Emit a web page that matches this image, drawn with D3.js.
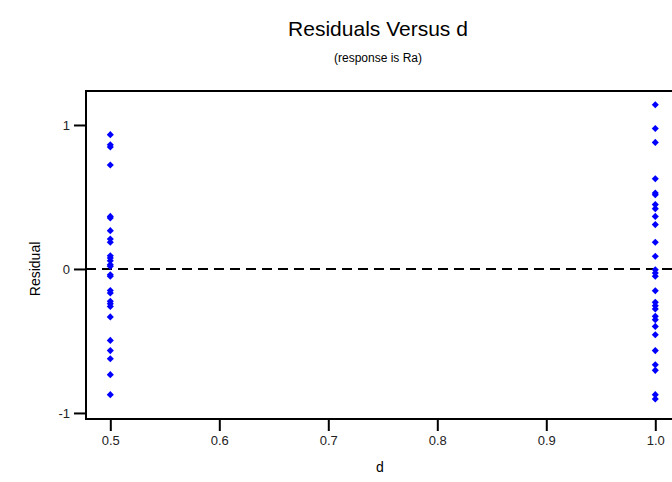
<!DOCTYPE html>
<html>
<head>
<meta charset="utf-8">
<script src="https://cdn.jsdelivr.net/npm/d3@7"></script>
<style>
    body { margin: 0; background: #ffffff; }
    #chart svg { display: block; }
    .tick text { font-family: "Liberation Sans", Arial, sans-serif; }
</style>
</head>
<body>
<div id="chart"></div>
<script>
// values
const dLevels = [0.5, 1.0]
const residualsAtHalf = [0.933, 0.863, 0.847, 0.722, 0.365, 0.354, 0.266, 0.208, 0.185, 0.092,
    0.076, 0.057, 0.030, 0.018, -0.040, -0.051, -0.149, -0.167, -0.225, -0.241, -0.260,
    -0.333, -0.496, -0.567, -0.623, -0.734, -0.873]
const residualsAtOne = [1.141, 0.976, 0.879, 0.627, 0.528, 0.516, 0.447, 0.419, 0.365, 0.308,
    0.185, 0.088, -0.005, -0.028, -0.051, -0.151, -0.232, -0.255, -0.278, -0.329, -0.352,
    -0.399, -0.457, -0.567, -0.665, -0.704, -0.873, -0.903]
const xTicks = [0.5, 0.6, 0.7, 0.8, 0.9, 1.0]
const yTicks = [-1, 0, 1]

function drawChart() {
    const width = 672
    const height = 482
    const fontFamily = "'Liberation Sans', Arial, sans-serif"

    const dimensions = {
        left: 86,
        top: 91,
        bottom: 419,
        right: 693
    }

    const dataset = []
    residualsAtHalf.forEach(r => dataset.push({d: dLevels[0], r: r}))
    residualsAtOne.forEach(r => dataset.push({d: dLevels[1], r: r}))

    const svg = d3.select("#chart").append("svg")
        .attr("width", width)
        .attr("height", height)

    const xScale = d3.scaleLinear()
        .domain([0.4777, 1.0346])
        .range([dimensions.left, dimensions.right])

    const yScale = d3.scaleLinear()
        .domain([-1.042, 1.236])
        .range([dimensions.bottom, dimensions.top])

    // titles
    svg.append("text")
        .attr("x", 378)
        .attr("y", 36)
        .attr("text-anchor", "middle")
        .style("font-family", fontFamily)
        .style("font-size", "21px")
        .text("Residuals Versus d")

    svg.append("text")
        .attr("x", 378)
        .attr("y", 62)
        .attr("text-anchor", "middle")
        .style("font-family", fontFamily)
        .style("font-size", "12px")
        .text("(response is Ra)")

    // axes
    const xAxis = d3.axisBottom(xScale)
        .tickValues(xTicks)
        .tickFormat(d3.format(".1f"))
        .tickSizeInner(12)
        .tickSizeOuter(0)
        .tickPadding(5)

    const yAxis = d3.axisLeft(yScale)
        .tickValues(yTicks)
        .tickFormat(d => String(d))
        .tickSizeInner(12)
        .tickSizeOuter(0)
        .tickPadding(4)

    svg.append("g")
        .attr("transform", `translate(0, ${dimensions.bottom})`)
        .call(xAxis)
    svg.append("g")
        .attr("transform", `translate(${dimensions.left}, 0)`)
        .call(yAxis)

    svg.selectAll(".domain").remove()
    svg.selectAll(".tick line").attr("stroke", "#000").attr("stroke-width", 2)
    svg.selectAll(".tick text")
        .attr("fill", "#222")
        .style("font-size", "13px")

    // frame
    svg.append("rect")
        .attr("x", dimensions.left)
        .attr("y", dimensions.top)
        .attr("width", dimensions.right - dimensions.left)
        .attr("height", dimensions.bottom - dimensions.top)
        .attr("fill", "none")
        .attr("stroke", "#000")
        .attr("stroke-width", 2)

    // reference line at zero
    svg.append("line")
        .attr("x1", dimensions.left)
        .attr("x2", dimensions.right)
        .attr("y1", yScale(0))
        .attr("y2", yScale(0))
        .attr("stroke", "#000")
        .attr("stroke-width", 2)
        .attr("stroke-dasharray", "10,6")

    // axis labels
    svg.append("text")
        .attr("x", 380)
        .attr("y", 472)
        .attr("text-anchor", "middle")
        .style("font-family", fontFamily)
        .style("font-size", "14px")
        .text("d")

    svg.append("text")
        .attr("transform", `translate(40, ${yScale(0)}) rotate(-90)`)
        .attr("text-anchor", "middle")
        .style("font-family", fontFamily)
        .style("font-size", "14px")
        .text("Residual")

    // points
    const diamond = d3.symbol().type(d3.symbolDiamond2).size(32)
    svg.append("g")
        .selectAll("path")
        .data(dataset)
        .join("path")
            .attr("d", diamond)
            .attr("transform", d => `translate(${xScale(d.d)}, ${yScale(d.r)})`)
            .attr("fill", "#0000ff")
}

drawChart()
</script>
</body>
</html>
